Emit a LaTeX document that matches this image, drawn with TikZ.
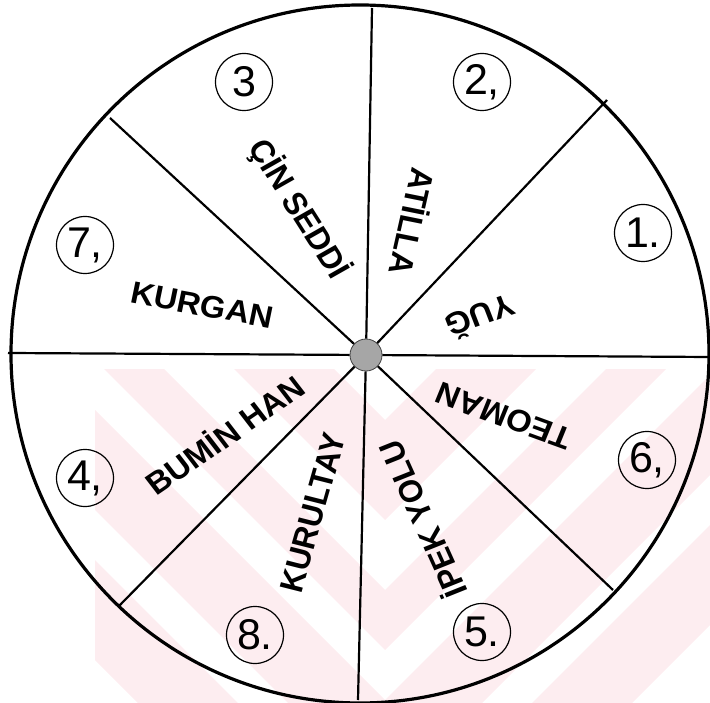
\documentclass[tikz,border=0pt]{standalone}
\usepackage{fontspec}
\setmainfont{Liberation Sans}
\definecolor{wm}{RGB}{253,237,240}
\begin{document}
\begin{tikzpicture}[x=1pt,y=-1pt,
  lbl/.style={font=\fontsize{31}{33}\selectfont\bfseries, xscale=1.06, inner sep=0pt},
  num/.style={draw, circle, line width=1.2pt, minimum size=57pt, inner sep=0pt, font=\fontsize{43}{43}\selectfont},
  spoke/.style={line width=2.2pt},
  rim/.style={line width=3.2pt},
  hubstyle/.style={circle, minimum size=32pt, inner sep=0pt, fill=black!35, draw=black!75, line width=0.8pt}]
\useasboundingbox (0,0) rectangle (710,703);
% watermark bands
\begin{scope}
\clip (95,370) rectangle (710,703);
\foreach \wa/\wb in {420/520, 590/650, 700/800, 850/950}{
  \fill[wm] (-615,\wa-1000) -- (385,\wa) -- (1385,\wa-1000) -- (1385,\wb-1000) -- (385,\wb) -- (-615,\wb-1000) -- cycle;
}
\end{scope}
% rim
\draw[rim] (360,354) circle[radius=349];
% hub and spokes
\node[hubstyle] (hub) at (366,355) {};
\coordinate (pN) at (372,8);
\coordinate (pNE) at (607,100);
\coordinate (pE) at (711,357);
\coordinate (pSE) at (613,590);
\coordinate (pS) at (358,700);
\coordinate (pSW) at (118,607);
\coordinate (pW) at (8,353);
\coordinate (pNW) at (110,118);
\foreach \p in {pN,pNE,pE,pSE,pS,pSW,pW,pNW}{
  \draw[spoke] (hub) -- (\p);
}
% labels
\node[lbl, rotate=-102] (atilla) at (414,222) {ATİLLA};
\node[lbl, rotate=-59] (cin) at (299,209) {ÇİN SEDDİ};
\node[lbl, rotate=-11] (kurgan) at (202,305) {KURGAN};
\node[lbl, rotate=200] (yug) at (481,318) {YUĞ};
\node[lbl, rotate=159] (teoman) at (504,416) {TEOMAN};
\node[lbl, rotate=113] (ipek) at (421,520) {İPEK YOLU};
\node[lbl, rotate=75] (kurultay) at (313,513) {KURULTAY};
\node[lbl, rotate=36] (bumin) at (224,434) {BUMİN HAN};
% numbers
\node[num] (n1) at (643,233) {1.};
\node[num] (n2) at (482,82) {2,};
\node[num] (n3) at (244,82) {3};
\node[num] (n4) at (85,478) {4,};
\node[num] (n5) at (482,632) {5.};
\node[num] (n6) at (647,460) {6,};
\node[num] (n7) at (85,245) {7,};
\node[num] (n8) at (255,635) {8.};
\end{tikzpicture}
\end{document}
